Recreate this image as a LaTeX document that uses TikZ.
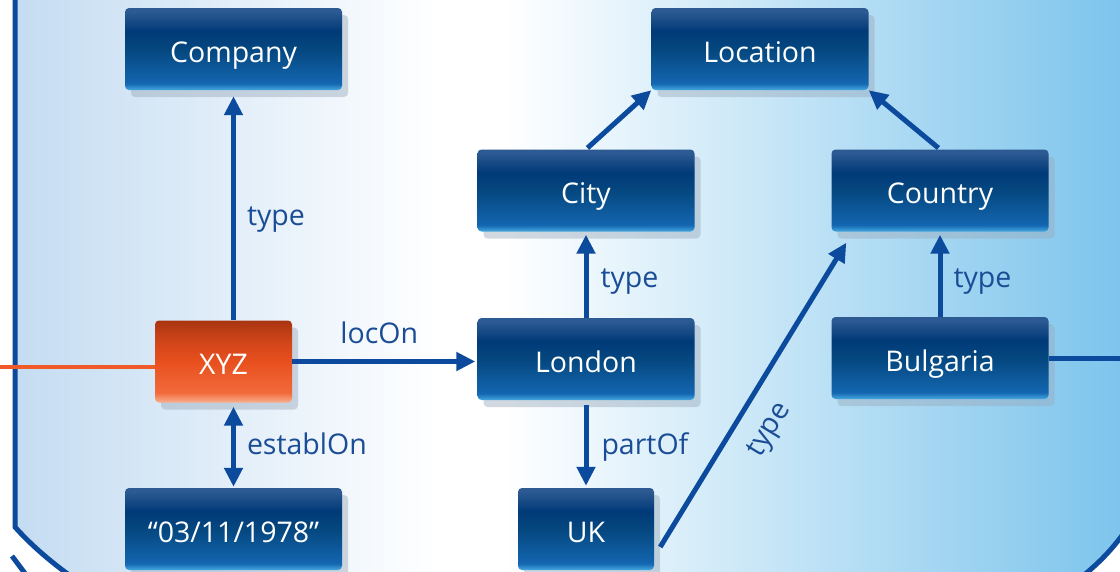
\documentclass[tikz,border=0pt]{standalone}
\usepackage{fontspec}
\setmainfont{Open Sans}
\usetikzlibrary{arrows.meta,shadows,calc}
\definecolor{arrblue}{HTML}{0B4A9C}
\definecolor{labblue}{HTML}{1A4D96}
\definecolor{bgL}{HTML}{C4DCF2}
\definecolor{bgR}{HTML}{7CC4EC}
\definecolor{bxTop}{HTML}{2D5A92}
\definecolor{bxDark}{HTML}{003A78}
\definecolor{bxDM}{HTML}{05477F}
\definecolor{bxMid}{HTML}{1366B0}
\definecolor{bxBot}{HTML}{45A8E0}
\definecolor{orTop}{HTML}{A83510}
\definecolor{orDark}{HTML}{D2451A}
\definecolor{orMid}{HTML}{E8501E}
\definecolor{orLow}{HTML}{F26A3A}
\definecolor{orBot}{HTML}{F8B090}
\definecolor{orLine}{HTML}{F05A28}
\definecolor{shad}{HTML}{9AAABB}
\pgfdeclarehorizontalshading{bgshade}{100bp}{color(0bp)=(bgL); color(25bp)=(bgL); color(44bp)=(white); color(47bp)=(white); color(75bp)=(bgR); color(100bp)=(bgR)}
\pgfdeclareverticalshading{boxshade}{100bp}{color(0bp)=(bxBot); color(25bp)=(bxBot); color(29bp)=(bxMid); color(50bp)=(bxDM); color(61bp)=(bxDark); color(73bp)=(bxTop); color(100bp)=(bxTop)}
\pgfdeclareverticalshading{orshade}{100bp}{color(0bp)=(orBot); color(25bp)=(orBot); color(31bp)=(orLow); color(50bp)=(orMid); color(62bp)=(orDark); color(75bp)=(orTop); color(100bp)=(orTop)}
\newcommand{\bfnt}{\fontsize{28.5}{32}\selectfont}
\tikzset{
  box/.style={shading=boxshade, rounded corners=4pt, minimum width=217pt, minimum height=82pt,
    text=white, font=\bfnt, inner sep=0pt, text height=26.5pt, text depth=0pt,
    drop shadow={shadow xshift=6pt, shadow yshift=-7pt, fill=shad, opacity=0.45}},
  obox/.style={box, shading=orshade, minimum width=137pt},
  arr/.style={draw=arrblue, line width=5pt, -{Triangle[length=19pt,width=18pt]}},
  darr/.style={draw=arrblue, line width=5pt, {Triangle[length=19pt,width=18pt]}-{Triangle[length=19pt,width=18pt]}},
  lab/.style={text=labblue, font=\bfnt, inner sep=0pt},
  border/.style={draw=arrblue, line width=5pt},
}
\begin{document}
\begin{tikzpicture}[x=1pt,y=-1pt]
\useasboundingbox (0,0) rectangle (1120,571);
% background
\fill[white] (0,0) rectangle (1120,571);
\shade[shading=bgshade] (15,-5) -- (15,527) .. controls (32,546) and (52,563) .. (76,580)
  -- (1078,580) .. controls (1098,564) and (1112,550) .. (1126,530) -- (1126,-5) -- cycle;
\draw[border] (15,-5) -- (15,527) .. controls (32,546) and (52,563) .. (76,580);
\draw[border] (1078,580) .. controls (1098,564) and (1112,550) .. (1126,530);
\draw[border] (12,556) -- (30,580);
% nodes
\node[box] (company) at (233.5,49) {Company};
\node[box] (location) at (760,49) {Location};
\node[box] (city) at (586,190.5) {City};
\node[box] (country) at (940,190.5) {Country};
\node[obox] (xyz) at (223.5,361.5) {XYZ};
\node[box] (london) at (586,359) {London};
\node[box] (bulgaria) at (940,358) {Bulgaria};
\node[box] (date) at (233.5,529) {“03/11/1978”};
\node[box, minimum width=136pt] (uk) at (586,529) {UK};
% free ends
\coordinate (lin) at (0,367);
\coordinate (rout) at (1125,358);
\draw[orLine, line width=4.5pt] (lin) -- (lin -| xyz.west);
\draw[border] (bulgaria.east) -- (rout);
% edges
\draw[arr, shorten >=6pt] (xyz.north -| company.south) -- (company.south)
  node[lab, pos=0.436, right=11pt] {type};
\draw[arr, shorten >=2pt] (xyz.east) -- (xyz.east -| london.west)
  node[lab, pos=0.47, yshift=29pt] {locOn};
\draw[darr, shorten <=4pt, shorten >=1pt] (xyz.south -| date.north) -- (date.north)
  node[lab, pos=0.48, right=11pt] {establOn};
\draw[arr, shorten >=3pt] (london.north) -- (city.south)
  node[lab, pos=0.42, right=12pt] {type};
\draw[arr, shorten <=5pt, shorten >=2pt] (london.south) -- (uk.north)
  node[lab, pos=0.54, right=13pt] {partOf};
\draw[arr, shorten <=2pt] (city.north) -- (location.south west);
\draw[arr, shorten <=2pt] (country.north) -- (location.south east);
\draw[arr, shorten >=3pt] (bulgaria.north) -- (country.south)
  node[lab, pos=0.41, right=11pt] {type};
\draw[arr] ($(uk.east)+(6,18)$) -- ($(country.south west)+(15,11)$)
  node[lab, sloped, pos=0.44, yshift=-33pt] {type};
\end{tikzpicture}
\end{document}
